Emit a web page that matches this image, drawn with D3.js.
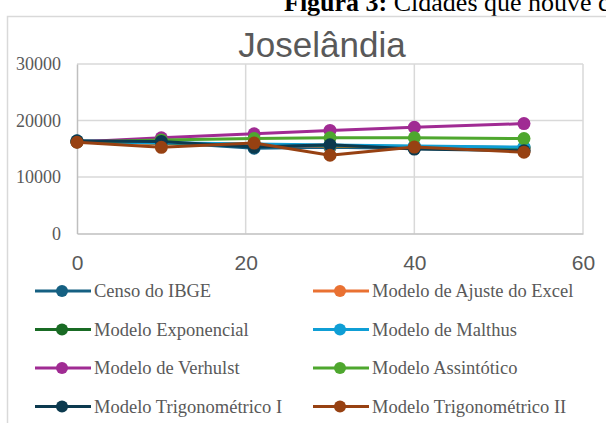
<!DOCTYPE html>
<html><head><meta charset="utf-8">
<script src="https://cdn.jsdelivr.net/npm/d3@7"></script>
<style>body{margin:0;background:#fff}svg{display:block}</style>
</head><body>
<svg id="c" width="606" height="423"></svg>
<script>
const xValues = [0, 10, 21, 30, 40, 53];
const seriesNames = ["Censo do IBGE","Modelo de Ajuste do Excel","Modelo Exponencial","Modelo de Malthus","Modelo de Verhulst","Modelo Assintótico","Modelo Trigonométrico I","Modelo Trigonométrico II"];
const censo      = [16400, 16150, 15100, 15250, 15050, 14750];
const ajuste     = [16250, 15950, 15650, 15450, 15300, 15100];
const exponencial= [16250, 16000, 15750, 15550, 15400, 15200];
const malthus    = [16250, 16050, 15850, 15650, 15500, 15300];
const verhulst   = [16200, 16950, 17650, 18250, 18800, 19450];
const assintotico= [16200, 16550, 16800, 16950, 16950, 16800];
const trig1      = [16350, 16300, 15300, 15700, 14950, 14650];
const trig2      = [16150, 15250, 16000, 13850, 15300, 14400];
const seriesValues = [censo, ajuste, exponencial, malthus, verhulst, assintotico, trig1, trig2];
const colors = ["#156082","#E97132","#196B24","#0F9ED5","#A02B93","#4EA72E","#0C3A4F","#974112"];
const yTicks = [0, 10000, 20000, 30000];
const xTicks = [0, 20, 40, 60];
const title = "Joselândia";

const svg = d3.select("#c");
// caption at top (cut off by the frame, as in the source)
const cap = svg.append("text").attr("x", 284).attr("y", 11)
  .attr("font-family", "'Liberation Serif','Times New Roman',serif").attr("font-size", 26).attr("fill", "#000");
cap.append("tspan").attr("font-weight", "bold").text("Figura 3:");
cap.append("tspan").text(" Cidades que houve crescimento");

// chart border
svg.append("rect").attr("x", 7.5).attr("y", 16.5).attr("width", 800).attr("height", 600)
  .attr("fill", "none").attr("stroke", "#d9d9d9").attr("stroke-width", 1.5);

svg.append("text").attr("x", 322).attr("y", 57).attr("text-anchor", "middle")
  .attr("font-family", "'Liberation Sans',Arial,sans-serif").attr("font-size", 35).attr("fill", "#595959").text(title);

const x = d3.scaleLinear().domain([0, 60]).range([77, 583]);
const y = d3.scaleLinear().domain([0, 30000]).range([233.5, 64]);

const grid = svg.append("g");
grid.selectAll("line.h").data(yTicks.slice(1)).join("line")
  .attr("x1", x(0)).attr("x2", x(60)).attr("y1", d => y(d)).attr("y2", d => y(d))
  .attr("stroke", "#d9d9d9").attr("stroke-width", 1.5);
grid.selectAll("line.v").data(xTicks.slice(1)).join("line")
  .attr("y1", y(0)).attr("y2", y(30000)).attr("x1", d => x(d)).attr("x2", d => x(d))
  .attr("stroke", "#d9d9d9").attr("stroke-width", 1.5);

// axes
const yAxis = svg.append("g").attr("transform", `translate(${x(0)},0)`)
  .call(d3.axisLeft(y).tickValues(yTicks).tickSize(0).tickPadding(16).tickFormat(d3.format("d")));
yAxis.select(".domain").attr("stroke", "#bfbfbf").attr("stroke-width", 1.5);
yAxis.selectAll("text").attr("font-family", "'Liberation Serif','Times New Roman',serif")
  .attr("font-size", 18).attr("fill", "#595959");

const xAxis = svg.append("g").attr("transform", `translate(0,${y(0)})`)
  .call(d3.axisBottom(x).tickValues(xTicks).tickSize(0).tickPadding(22));
xAxis.select(".domain").attr("stroke", "#bfbfbf").attr("stroke-width", 1.5);
xAxis.selectAll("text").attr("font-family", "'Liberation Sans',Arial,sans-serif")
  .attr("font-size", 21).attr("fill", "#595959");

const line = d3.line().x((d, i) => x(xValues[i])).y(d => y(d));
seriesValues.forEach((vals, si) => {
  const g = svg.append("g");
  g.append("path").attr("d", line(vals)).attr("fill", "none").attr("stroke", colors[si])
    .attr("stroke-width", 3).attr("stroke-linejoin", "round");
  g.selectAll("circle").data(vals).join("circle")
    .attr("cx", (d, i) => x(xValues[i])).attr("cy", d => y(d)).attr("r", 6.5).attr("fill", colors[si]);
});

// legend
const legCols = [35, 313];
const legRows = [291, 329.5, 368, 406.5];
seriesNames.forEach((name, i) => {
  const cx = legCols[i % 2], cy = legRows[Math.floor(i / 2)];
  const g = svg.append("g").attr("transform", `translate(${cx},${cy})`);
  g.append("line").attr("x1", 0).attr("x2", 56).attr("stroke", colors[i]).attr("stroke-width", 3);
  g.append("circle").attr("cx", 27).attr("r", 6).attr("fill", colors[i]);
  g.append("text").attr("x", 59).attr("dy", "0.35em")
    .attr("font-family", "'Liberation Serif','Times New Roman',serif").attr("font-size", 18.5)
    .attr("fill", "#595959").text(name);
});
</script>
</body></html>
